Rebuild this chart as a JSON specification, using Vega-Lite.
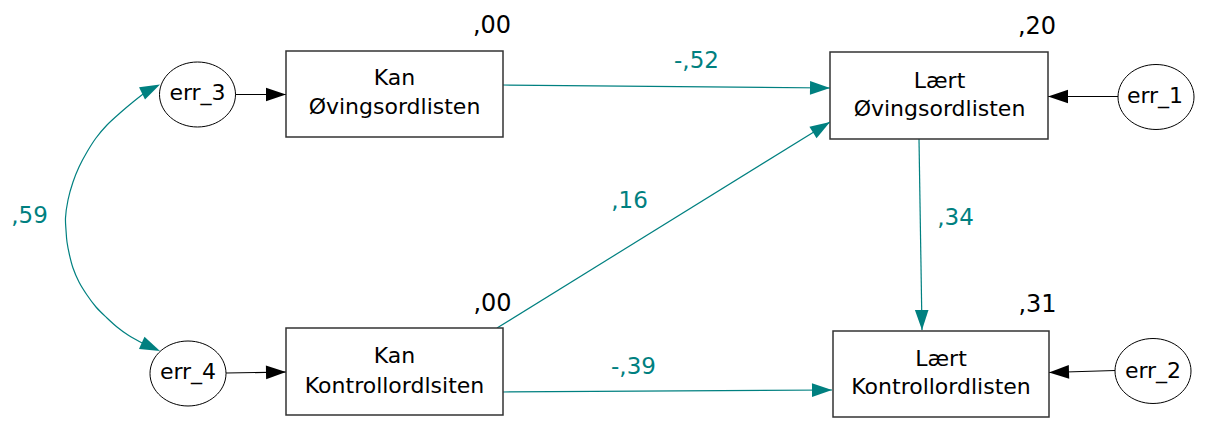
{
  "$schema": "https://vega.github.io/schema/vega-lite/v6.json",
  "width": 1206,
  "height": 432,
  "autosize": {"type": "fit", "contains": "padding"},
  "padding": 0,
  "background": "white",
  "config": {"view": {"stroke": null}},
  "datasets": {
    "boxes": [
      {"id": "kan_ov", "x": 286, "x2": 503, "y": 51, "y2": 137},
      {"id": "laert_ov", "x": 830, "x2": 1048, "y": 52, "y2": 139},
      {"id": "kan_ko", "x": 286, "x2": 503, "y": 328, "y2": 415},
      {"id": "laert_ko", "x": 833, "x2": 1049, "y": 331, "y2": 417}
    ],
    "errors": [
      {"id": "err_3", "x": 197.5, "y": 94.5},
      {"id": "err_1", "x": 1156, "y": 97},
      {"id": "err_4", "x": 188, "y": 373.5},
      {"id": "err_2", "x": 1153, "y": 371}
    ],
    "edges": [
      {"kind": "path", "x": 503, "y": 85, "x2": 830, "y2": 88},
      {"kind": "path", "x": 497, "y": 328, "x2": 830, "y2": 122},
      {"kind": "path", "x": 919, "y": 139, "x2": 922, "y2": 330},
      {"kind": "path", "x": 503, "y": 392, "x2": 832, "y2": 390},
      {"kind": "error", "x": 235, "y": 94.5, "x2": 286, "y2": 94.5},
      {"kind": "error", "x": 1118, "y": 96.5, "x2": 1048, "y2": 96.5},
      {"kind": "error", "x": 226, "y": 373, "x2": 286, "y2": 372},
      {"kind": "error", "x": 1115, "y": 370.5, "x2": 1049, "y2": 372.5}
    ],
    "heads": [
      {"kind": "path", "x": 830, "y": 88, "angle": 0.5},
      {"kind": "path", "x": 830, "y": 122, "angle": -31.7},
      {"kind": "path", "x": 922, "y": 330, "angle": 89.1},
      {"kind": "path", "x": 832, "y": 390, "angle": -0.35},
      {"kind": "error", "x": 286, "y": 94.5, "angle": 0},
      {"kind": "error", "x": 1048, "y": 96.5, "angle": 180},
      {"kind": "error", "x": 286, "y": 372, "angle": -1},
      {"kind": "error", "x": 1049, "y": 372.5, "angle": 178.3},
      {"kind": "path", "x": 160, "y": 84.5, "angle": -26},
      {"kind": "path", "x": 160, "y": 351, "angle": 24}
    ],
    "curve": [
      {"i": 0, "x": 147, "y": 91},
      {"i": 1, "x": 133, "y": 102},
      {"i": 2, "x": 120, "y": 113},
      {"i": 3, "x": 107, "y": 125},
      {"i": 4, "x": 96, "y": 138},
      {"i": 5, "x": 87, "y": 152},
      {"i": 6, "x": 79, "y": 167},
      {"i": 7, "x": 73, "y": 182},
      {"i": 8, "x": 68, "y": 200},
      {"i": 9, "x": 65.5, "y": 218},
      {"i": 10, "x": 66, "y": 230},
      {"i": 11, "x": 67, "y": 242},
      {"i": 12, "x": 69.5, "y": 255},
      {"i": 13, "x": 73, "y": 268},
      {"i": 14, "x": 79, "y": 282},
      {"i": 15, "x": 87, "y": 295},
      {"i": 16, "x": 96, "y": 307},
      {"i": 17, "x": 107, "y": 318},
      {"i": 18, "x": 117, "y": 327},
      {"i": 19, "x": 128, "y": 335},
      {"i": 20, "x": 144, "y": 344}
    ],
    "labels": [
      {"kind": "node", "text": "Kan", "x": 394.5, "y": 85},
      {"kind": "node", "text": "Øvingsordlisten", "x": 394.5, "y": 114},
      {"kind": "node", "text": "Lært", "x": 939.5, "y": 88},
      {"kind": "node", "text": "Øvingsordlisten", "x": 939.5, "y": 116},
      {"kind": "node", "text": "Kan", "x": 394.5, "y": 363},
      {"kind": "node", "text": "Kontrollordlsiten", "x": 394.5, "y": 393},
      {"kind": "node", "text": "Lært", "x": 941, "y": 366},
      {"kind": "node", "text": "Kontrollordlisten", "x": 941, "y": 394},
      {"kind": "err", "text": "err_3", "x": 197.5, "y": 100},
      {"kind": "err", "text": "err_1", "x": 1155, "y": 103},
      {"kind": "err", "text": "err_4", "x": 188, "y": 379},
      {"kind": "err", "text": "err_2", "x": 1153, "y": 378},
      {"kind": "r2", "text": ",00", "x": 492, "y": 33},
      {"kind": "r2", "text": ",20", "x": 1037, "y": 34},
      {"kind": "r2", "text": ",00", "x": 492.5, "y": 311},
      {"kind": "r2", "text": ",31", "x": 1037.5, "y": 312},
      {"kind": "coef", "text": "-,52", "x": 696.5, "y": 68},
      {"kind": "coef", "text": ",16", "x": 629.5, "y": 208},
      {"kind": "coef", "text": ",34", "x": 955.5, "y": 225},
      {"kind": "coef", "text": "-,39", "x": 633.5, "y": 374},
      {"kind": "coef", "text": ",59", "x": 29.5, "y": 223}
    ]
  },
  "encoding": {
    "x": {"field": "x", "type": "quantitative", "axis": null, "scale": {"domain": [0, 1206], "nice": false, "zero": false}},
    "y": {"field": "y", "type": "quantitative", "axis": null, "scale": {"domain": [0, 432], "reverse": true, "nice": false, "zero": false}}
  },
  "layer": [
    {
      "data": {"name": "edges"},
      "mark": {"type": "rule", "strokeWidth": 1.2},
      "encoding": {
        "x2": {"field": "x2"},
        "y2": {"field": "y2"},
        "color": {"field": "kind", "type": "nominal", "legend": null, "scale": {"domain": ["path", "error"], "range": ["#008080", "#000000"]}}
      }
    },
    {
      "data": {"name": "curve"},
      "mark": {"type": "line", "interpolate": "catmull-rom", "color": "#008080", "strokeWidth": 1.2},
      "encoding": {"order": {"field": "i", "type": "quantitative"}}
    },
    {
      "data": {"name": "boxes"},
      "mark": {"type": "rect", "fill": "white", "stroke": "#333333", "strokeWidth": 1.5},
      "encoding": {"x2": {"field": "x2"}, "y2": {"field": "y2"}}
    },
    {
      "data": {"name": "errors"},
      "mark": {"type": "point", "shape": "M-1,0 A1,0.855 0 1,0 1,0 A1,0.855 0 1,0 -1,0 Z", "size": 5776, "filled": true, "fill": "white", "stroke": "black", "strokeWidth": 1, "opacity": 1}
    },
    {
      "data": {"name": "heads"},
      "mark": {"type": "point", "shape": "M0,0 L-2,-0.68 L-2,0.68 Z", "size": 400, "filled": true, "opacity": 1},
      "encoding": {
        "angle": {"field": "angle", "type": "quantitative", "scale": null},
        "color": {"field": "kind", "type": "nominal", "legend": null, "scale": {"domain": ["path", "error"], "range": ["#008080", "#000000"]}}
      }
    },
    {
      "data": {"name": "labels"},
      "transform": [{"filter": "datum.kind === 'node' || datum.kind === 'err'"}],
      "mark": {"type": "text", "font": "DejaVu Sans", "fontSize": 22, "align": "center", "baseline": "alphabetic", "color": "black"},
      "encoding": {"text": {"field": "text"}}
    },
    {
      "data": {"name": "labels"},
      "transform": [{"filter": "datum.kind === 'r2'"}],
      "mark": {"type": "text", "font": "DejaVu Sans", "fontSize": 24, "align": "center", "baseline": "alphabetic", "color": "black"},
      "encoding": {"text": {"field": "text"}}
    },
    {
      "data": {"name": "labels"},
      "transform": [{"filter": "datum.kind === 'coef'"}],
      "mark": {"type": "text", "font": "DejaVu Sans", "fontSize": 23, "align": "center", "baseline": "alphabetic", "color": "#008080"},
      "encoding": {"text": {"field": "text"}}
    }
  ]
}
